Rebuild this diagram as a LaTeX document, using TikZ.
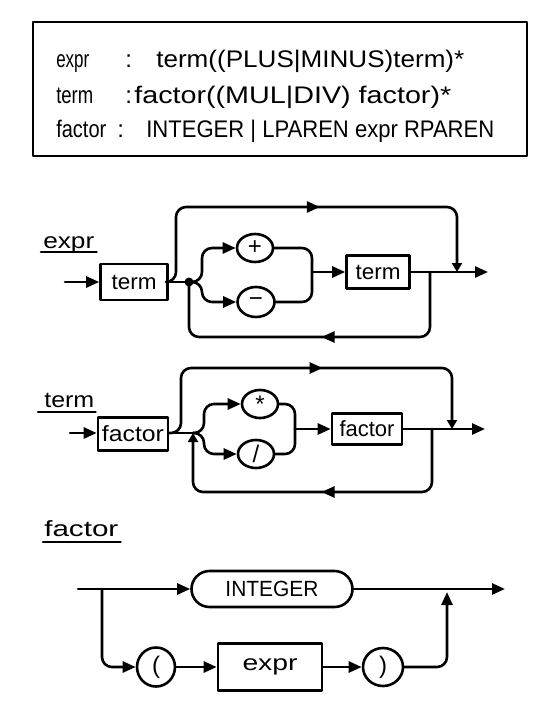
\documentclass[tikz,border=0pt]{standalone}
\usepackage{fontspec}
\setmainfont{Liberation Sans}
\usetikzlibrary{arrows.meta,decorations.markings,shapes.geometric}
\newcommand\fitw[2]{\resizebox{#1}{\height}{#2}}
\begin{document}
\begin{tikzpicture}[x=1pt,y=-1pt, line width=2.6pt, line cap=round, line join=round,
  >={Triangle[length=13pt,width=11pt]},
  box/.style={draw, rectangle, inner sep=0pt, font=\fontsize{22}{24}\selectfont},
  bubble/.style={draw, ellipse, inner sep=0pt, minimum width=36pt, minimum height=28pt, font=\fontsize{24}{26}\selectfont},
  gtext/.style={anchor=base west, inner sep=0pt, font=\fontsize{24}{27}\selectfont},
  lbl/.style={anchor=base west, inner sep=0pt, font=\fontsize{22}{24}\selectfont},
  jdot/.style={circle, fill, inner sep=0pt, minimum size=9pt},
  midarr/.style={postaction={decorate}, decoration={markings, mark=at position #1 with {\arrow{>}}}},
  rc/.style={rounded corners=10pt},
  sharr/.style={-{Triangle[length=9pt,width=10pt]}},
]
\useasboundingbox (0,0) rectangle (554,726);
\fill[white] (0,0) rectangle (554,726);

% grammar box
\node[draw, minimum width=494pt, minimum height=134pt, inner sep=0pt] (gram) at (280,89) {};
\node[gtext] (g1a) at (55,67) {\fitw{33pt}{expr}};
\node[gtext] (g1b) at (124,67) {:};
\node[gtext] (g1c) at (155,67) {\fitw{308pt}{term((PLUS|MINUS)term)*}};
\node[gtext] (g2a) at (55,103) {\fitw{37pt}{term}};
\node[gtext] (g2b) at (124,103) {:};
\node[gtext] (g2c) at (133,103) {\fitw{317pt}{factor((MUL|DIV) factor)*}};
\node[gtext] (g3a) at (55,137) {\fitw{50pt}{factor}};
\node[gtext] (g3b) at (116,137) {:};
\node[gtext] (g3c) at (145,137) {\fitw{348pt}{INTEGER | LPAREN expr RPAREN}};

% ---------------- expr ----------------
\node[lbl] (lexpr) at (42,248) {\fitw{51pt}{expr}};
\draw ([xshift=-1pt,yshift=-4pt]lexpr.base west) -- ([xshift=1pt,yshift=-4pt]lexpr.base east);

\coordinate (in1) at (65,282);
\node[box, minimum width=67pt, minimum height=36pt] (t1) at (134,282) {\fitw{45pt}{term}};
\draw[->] (in1) -- (t1.west);
\node[jdot] (j1) at (189,282) {};
\coordinate (o1) at (457,272);
\coordinate (e1) at (488,272);
\draw (t1.east) -- (j1.center);
\draw[rc, midarr=0.53, sharr] (t1.east) -| (176,207) -| (o1);
\node[bubble] (p) at (255,248) {+};
\node[bubble, minimum width=37pt, minimum height=30pt] (m) at (256,302) {−};
\draw[rc, ->] (j1.center) -- (202,282) |- (p.west);
\draw[rc, ->] (j1.center) -- (202,282) |- (m.west);
\coordinate (mg1) at (312,272);
\draw[rc] (p.east) -| (mg1);
\draw[rc] (m.east) -| (mg1);
\node[box, minimum width=63pt, minimum height=33pt] (t2) at (378,272) {\fitw{45pt}{term}};
\draw[->] (mg1) -- (t2.west);
\draw[->] (t2.east) -- (e1);
\coordinate (lb1) at (430,272);
\draw[rc, midarr=0.48] (lb1) |- (189,337) -- (j1.center);

% ---------------- term ----------------
\node[lbl] (lterm) at (43,407) {\fitw{50pt}{term}};
\draw ([xshift=-5pt,yshift=-5pt]lterm.base west) -- ([xshift=0pt,yshift=-5pt]lterm.base east);

\coordinate (in2) at (70,433);
\node[box, minimum width=70pt, minimum height=33pt] (f1) at (133,434) {\fitw{62pt}{factor}};
\draw[->] (in2) -- (f1.west |- in2);
\coordinate (j2) at (193,433);
\coordinate (o2) at (452,429);
\coordinate (e2) at (485,429);
\draw (f1.east |- j2) -- (j2);
\draw[rc, midarr=0.53, sharr] (f1.east |- j2) -| (181,368) -| (o2);
\node[bubble] (s) at (260,404) {\raisebox{-0.4ex}{*}};
\node[bubble] (d) at (256,454) {/};
\draw[rc, ->] (j2) -- (204,433) |- (s.west);
\draw[rc, ->] (j2) -- (204,433) |- (d.west);
\coordinate (mg2) at (295,429);
\draw[rc] (s.east) -| (mg2);
\draw[rc] (d.east) -| (mg2);
\node[box, minimum width=70pt, minimum height=31pt] (f2) at (367,429) {\fitw{55pt}{factor}};
\draw[->] (mg2) -- (f2.west);
\draw[->] (f2.east) -- (e2);
\coordinate (lb2) at (432,429);
\draw[rc, midarr=0.48, sharr] (lb2) |- (193,492) -- (j2);

% ---------------- factor ----------------
\node[lbl] (lfactor) at (43,536) {\fitw{74pt}{factor}};
\draw ([xshift=0pt,yshift=-6pt]lfactor.base west) -- ([xshift=1pt,yshift=-6pt]lfactor.base east);

\coordinate (fs) at (78,589);
\coordinate (fsp) at (102,589);
\node[draw, rounded corners=18pt, minimum width=161pt, minimum height=36pt, inner sep=0pt,
      font=\fontsize{22}{24}\selectfont] (int) at (272,589) {\fitw{93pt}{INTEGER}};
\coordinate (fj) at (447,592);
\coordinate (fe) at (505,589);
\draw[->] (fs) -- (int.west);
\draw[->] (int.east) -- (fe);
\node[bubble, minimum width=38pt, minimum height=39pt] (lp) at (156,667) {(};
\node[box, minimum width=104pt, minimum height=47pt] (ex) at (270,667) {\fitw{55pt}{expr}};
\node[bubble, minimum width=40pt, minimum height=38pt] (rp) at (383,667) {)};
\draw[rc, ->] (fsp) |- (lp.west);
\draw[->] (lp) -- (ex);
\draw[->] (ex) -- (rp);
\draw[rc, ->] (rp.east) -| (fj);
\end{tikzpicture}
\end{document}
